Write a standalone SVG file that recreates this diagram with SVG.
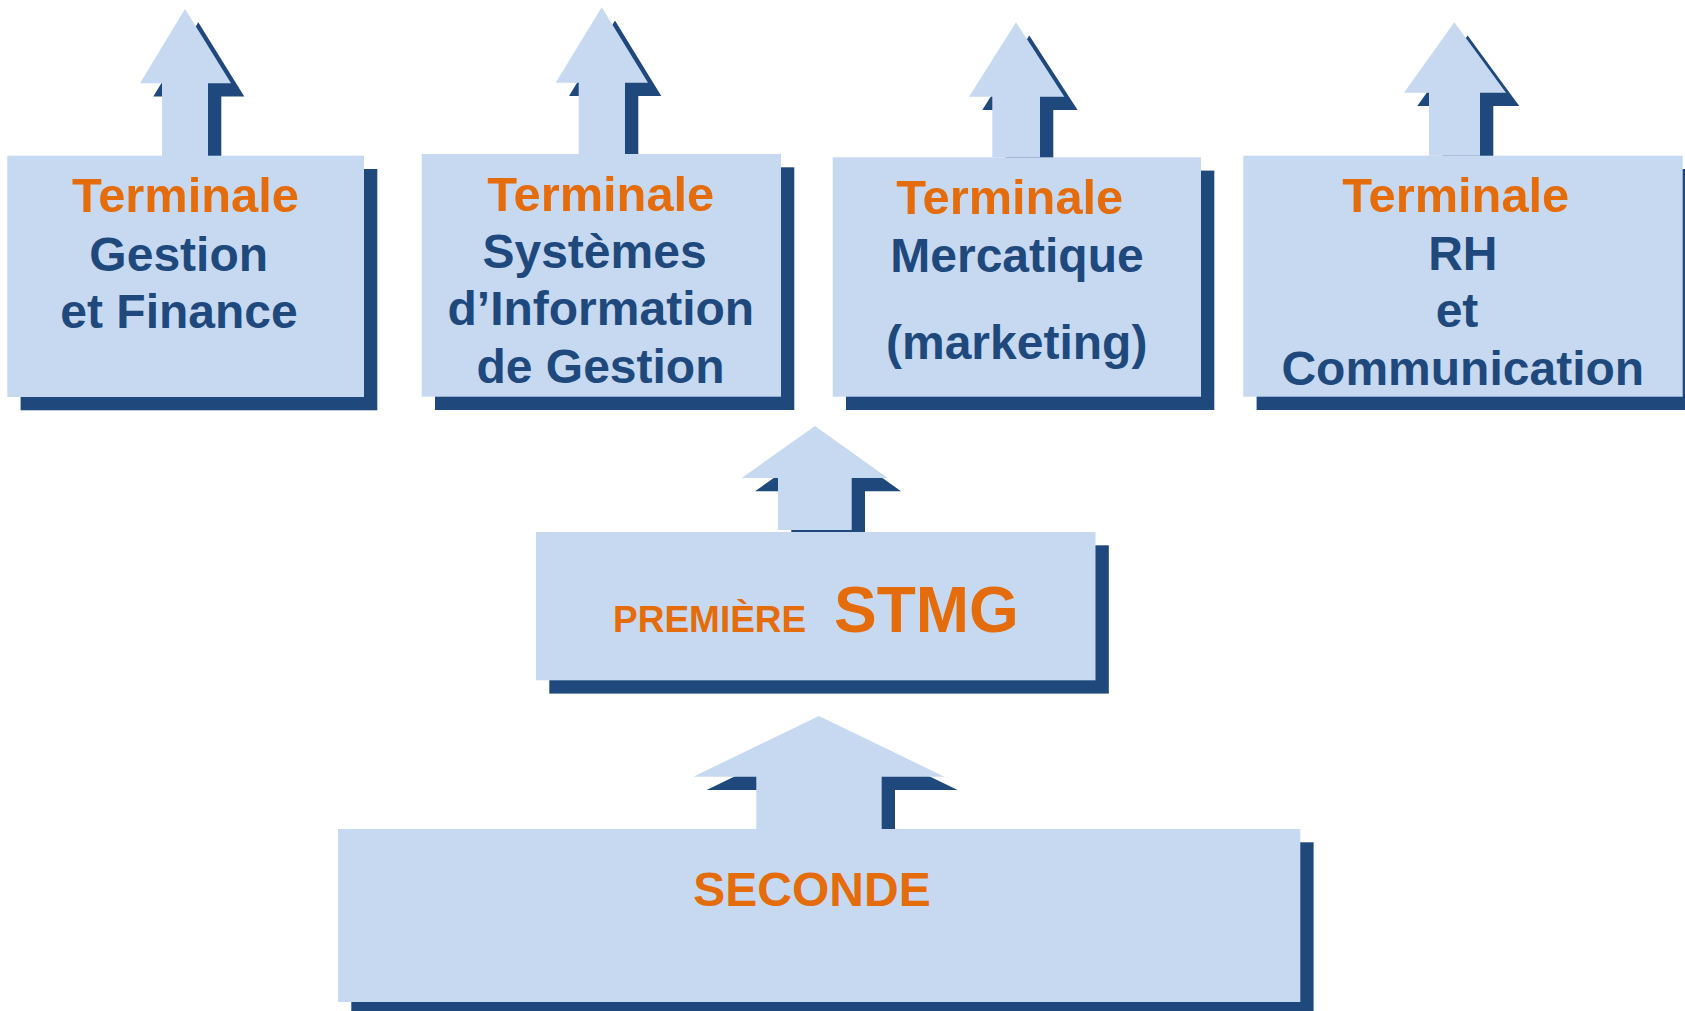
<svg xmlns="http://www.w3.org/2000/svg" width="1685" height="1011" viewBox="0 0 1685 1011">
<style>
.box{fill:#C6D9F1}
.sh{fill:#1F497D}
.ar{fill:#C6D9F1}
text{font-family:"Liberation Sans",Arial,sans-serif;font-weight:bold;text-anchor:middle}
.t{fill:#E46C0A;font-size:48.8px}
.d{fill:#1F497D;font-size:48px}
</style>
<defs>
<path id="a1" d="M185,9 L231,83.3 L208,83.3 L208,156 L162,156 L162,83.3 L140,83.3 Z"/>
<path id="a2" d="M601.7,7.3 L648,82.7 L625,82.7 L625,154 L578.7,154 L578.7,82.7 L555.7,82.7 Z"/>
<path id="a3" d="M1016,22.3 L1064.3,96.7 L1040,96.7 L1040,157.3 L992.3,157.3 L992.3,96.7 L969,96.7 Z"/>
<path id="a4" d="M1454.3,22.3 L1506,92.7 L1480,92.7 L1480,155.7 L1429,155.7 L1429,92.7 L1404,92.7 Z"/>
<path id="a5" d="M815,426 L887.7,478 L851.7,478 L851.7,530 L778,530 L778,478 L741.7,478 Z"/>
<path id="a6" d="M819,716 L944.3,776.7 L881.7,776.7 L881.7,829 L756.3,829 L756.3,776.7 L693.3,776.7 Z"/>
</defs>
<g id="connectors">
<use href="#a1" class="sh" transform="translate(13.3,13.3)"/>
<use href="#a1" class="ar"/>
<use href="#a2" class="sh" transform="translate(13.3,13.3)"/>
<use href="#a2" class="ar"/>
<use href="#a3" class="sh" transform="translate(13.3,13.3)"/>
<use href="#a3" class="ar"/>
<use href="#a4" class="sh" transform="translate(13.3,13.3)"/>
<use href="#a4" class="ar"/>
<use href="#a5" class="sh" transform="translate(13.3,13.3)"/>
<use href="#a5" class="ar"/>
<use href="#a6" class="sh" transform="translate(13.3,13.3)"/>
<use href="#a6" class="ar"/>
</g>
<g id="terminale-gf">
<rect class="sh" x="20.6" y="169" width="356.7" height="241.3"/>
<rect class="box" x="7.3" y="155.7" width="356.7" height="241.3"/>
<text class="t" x="185.5" y="211.7">Terminale</text>
<text class="d" x="178.7" y="270.7">Gestion</text>
<text class="d" x="179" y="328.3">et Finance</text>
</g>
<g id="terminale-sig">
<rect class="sh" x="435" y="167.3" width="359.3" height="242.7"/>
<rect class="box" x="421.7" y="154" width="359.3" height="242.7"/>
<text class="t" x="600.8" y="210.7">Terminale</text>
<text class="d" x="594.5" y="268.3">Systèmes</text>
<text class="d" x="600.8" y="325">d’Information</text>
<text class="d" x="600.5" y="383.3">de Gestion</text>
</g>
<g id="terminale-mercatique">
<rect class="sh" x="846" y="170.6" width="368.3" height="239.4"/>
<rect class="box" x="832.7" y="157.3" width="368.3" height="239.4"/>
<text class="t" x="1009.8" y="214.3">Terminale</text>
<text class="d" x="1017" y="271.7">Mercatique</text>
<text class="d" x="1016.7" y="359.3">(marketing)</text>
</g>
<g id="terminale-rhc">
<rect class="sh" x="1256.6" y="169" width="439.4" height="241"/>
<rect class="box" x="1243.3" y="155.7" width="439.4" height="241"/>
<text class="t" x="1455.8" y="212.3">Terminale</text>
<text class="d" x="1462.8" y="270">RH</text>
<text class="d" x="1457" y="327.3">et</text>
<text class="d" x="1462.8" y="385">Communication</text>
</g>
<g id="premiere">
<rect class="sh" x="549.3" y="545.3" width="559.5" height="148.3"/>
<rect class="box" x="536" y="532" width="559.5" height="148.3"/>
<text style="text-anchor:start;fill:#E46C0A;font-size:37px" x="613" y="632">PREMIÈRE</text>
<text style="text-anchor:start;fill:#E46C0A;font-size:64px" x="834" y="632">STMG</text>
</g>
<g id="seconde">
<rect class="sh" x="351.3" y="842.3" width="962.3" height="173"/>
<rect class="box" x="338" y="829" width="962.3" height="173"/>
<text class="t" x="812" y="905.7" style="font-size:48px">SECONDE</text>
</g>
</svg>
